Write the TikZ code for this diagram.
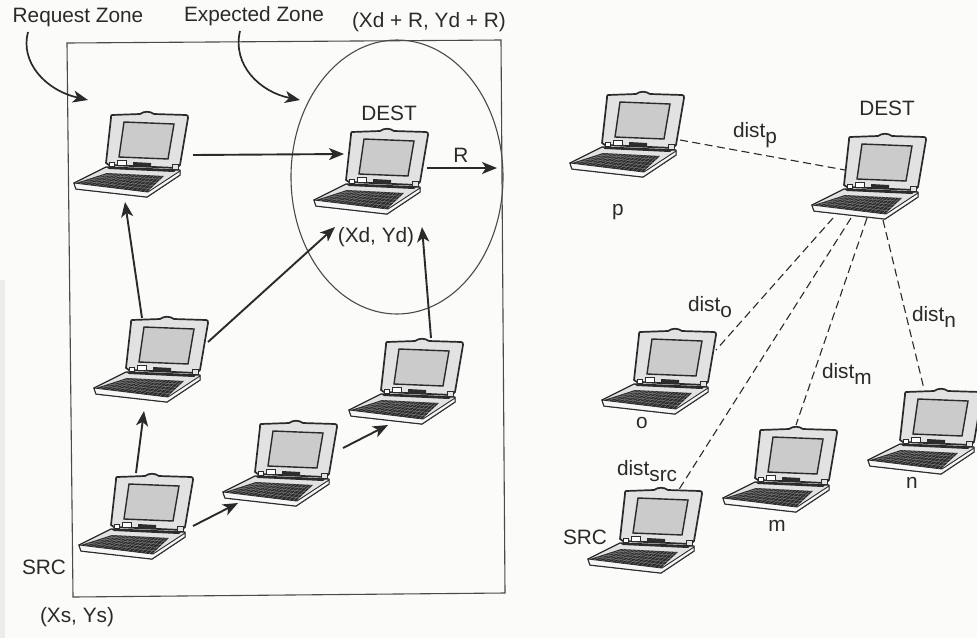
\documentclass[tikz,border=0pt]{standalone}
\usepackage{fontspec}
\setmainfont{Liberation Sans}
\usetikzlibrary{arrows.meta,calc}
\definecolor{paper}{HTML}{FBFBF9}
\definecolor{ink}{HTML}{2A2A2A}
\definecolor{lidgray}{HTML}{E2E2E2}
\definecolor{screengray}{HTML}{CBCBCB}
\definecolor{keydark}{HTML}{2C2C2C}
\newcommand{\sub}[1]{\raisebox{-6pt}{#1}}
\tikzset{
  x=1pt,y=-1pt,
  label text/.style={font=\fontsize{20.8}{24}\selectfont,text=ink,inner sep=0pt,outer sep=0pt},
  zone/.style={draw=ink!85,line width=1.1pt},
  conn/.style={draw=ink,line width=1.9pt,-{Stealth[length=15pt,width=12pt,inset=4pt]}},
  pointer/.style={conn,line width=1.7pt},
  dist/.style={draw=ink,line width=1.1pt,dash pattern=on 8pt off 4.5pt},
  laptop box/.style={minimum width=114pt,minimum height=85pt,inner sep=0pt,outer sep=0pt},
  pics/laptop/.style={code={
    % base
    \draw[ink,line width=1.3pt,fill=lidgray,line join=round]
      (-38,68) -- (-6,52) -- (68,55) -- (68,60) -- (35,82) -- (-36,74) -- cycle;
    \draw[ink,line width=0.9pt,fill=white!70!lidgray] (-38,68) -- (36,77) -- (68,56) -- (68,60) -- (35,82) -- (-36,74) -- cycle;
    % lid
    \draw[ink,line width=1.7pt,fill=lidgray,line join=round]
      (0,0) -- (28,-1) .. controls (32,-4) and (38,-4) .. (42,-1) -- (74,0)
      .. controls (76,0) and (76,1) .. (76,3) -- (68,50) -- (65,53) -- (-3,50) -- (-6,48) -- (-1,3)
      .. controls (-1,1) and (-1,0) .. (0,0) -- cycle;
    % screen
    \draw[ink,line width=1.4pt,fill=screengray] (12,7) -- (62,9) -- (56,44) -- (7,42) -- cycle;
    % hinge row
    \fill[keydark] (21,47) -- (39,48) -- (39,52) -- (21,52) -- cycle;
    \draw[keydark,line width=0.9pt,fill=white] (-3,47) rectangle (2,51);
    \draw[keydark,line width=0.9pt,fill=white] (5,45) rectangle (14,50);
    \draw[keydark,line width=0.9pt,fill=lidgray] (60,49) rectangle (66,54);
    % bar behind keyboard
    \fill[keydark] (-6,52) -- (64,55) -- (62,57) -- (-3,54) -- cycle;
    % keyboard
    \fill[keydark] (-5,58) -- (52,61) -- (35,77) -- (-36,68) -- cycle;
    \foreach \t in {0.2,0.4,0.6,0.8}{
      \draw[white!50!keydark,line width=0.3pt]
        ($(-5,58)!\t!(-36,68)$) -- ($(52,61)!\t!(35,77)$);
    }
    \foreach \t in {0.06,0.12,...,0.96}{
      \draw[white!45!keydark,line width=0.3pt]
        ($(-5,58)!\t!(52,61)$) -- ($(-36,68)!\t!(35,77)$);
    }
  }}
}
\begin{document}
\begin{tikzpicture}
\useasboundingbox (0,0) rectangle (977,638);
\fill[paper] (0,0) rectangle (977,638);
\fill[lidgray!60!paper] (0,280) rectangle (5,638);

% zones
\draw[zone] (67,43) -- (501,40) -- (505,593) -- (73,597) -- cycle;
\draw[zone] (397,177) ellipse [x radius=106,y radius=137];

% laptops (node centre = lid corner + (19,39.5))
\foreach \nm/\cx/\cy in {a/131/154.5,b/371/171.5,c/151/359.5,d/136/516.5,e/280/463.5,f/406/381.5,
                         p/627/134.5,dd/869/176.5,o/659/371.5,m/780/469.5,n/925/431.5,s/645/530.5}{
  \node[laptop box] (\nm) at (\cx,\cy) {};
  \pic at ($(\nm)+(-19,-39.5)$) {laptop};
}

% labels
\node[label text] (reqlabel) at (78,17) {Request Zone};
\node[label text] (explabel) at (254,16) {Expected Zone};
\node[label text,anchor=west] (corner) at (352,22) {(Xd + R, Yd + R)};
\node[label text] (destl) at (389,113) {DEST};
\node[label text] (rlabel) at (461,155) {R};
\node[label text] (xdyd) at (376,237) {(Xd, Yd)};
\node[label text] (srcl) at (44,567) {SRC};
\node[label text] (xsys) at (77,617) {(Xs, Ys)};
\node[label text] (destr) at (887,108) {DEST};
\node[label text] (pl) at (618,212) {p};
\node[label text] (ol) at (642,423) {o};
\node[label text] (ml) at (777,526) {m};
\node[label text] (nl) at (912,483) {n};
\node[label text] (srcr) at (585,537) {SRC};
\node[label text,anchor=base west] (dp) at (733,137) {dist\sub{p}};
\node[label text,anchor=base west] (dO) at (688,311) {dist\sub{o}};
\node[label text,anchor=base west] (dn) at (912,321) {dist\sub{n}};
\node[label text,anchor=base west] (dm) at (822,378) {dist\sub{m}};
\node[label text,anchor=base west] (dsrc) at (617,475) {dist\sub{src}};

% pointers
\coordinate (reqtip) at (88,100);
\coordinate (exptip) at (300,100);
\coordinate (rend) at (497,168);
\draw[pointer] ($(reqlabel)+(-50,15)$) .. controls (20,62) and (45,90) .. (reqtip);
\draw[pointer] ($(explabel)+(-14,15)$) .. controls (232,65) and (260,92) .. (exptip);

% route
\draw[conn] ($(a)+(62,0.5)$) -- ($(b)+(-27,-17.5)$);
\draw[conn] ($(b)+(56,-3.5)$) -- (rend);
\draw[conn] ($(d)+(0,-43.5)$) -- ($(c)+(-7,51.5)$);
\draw[conn] ($(c)+(-9,-41.5)$) -- ($(a)+(-6,47.5)$);
\draw[conn] ($(c)+(57,-17.5)$) -- ($(b)+(-36,55.5)$);
\draw[conn] ($(f)+(25,-43.5)$) -- ($(b)+(51,55.5)$);
\draw[conn] ($(d)+(57,9.5)$) -- ($(e)+(-42,39.5)$);
\draw[conn] ($(e)+(63,-15.5)$) -- ($(f)+(-18,43.5)$);

% distances
\draw[dist] ($(p)+(53,5.5)$) -- ($(dd)+(-24,-6.5)$);
\draw[dist] ($(dd)+(-36,41.5)$) -- ($(o)+(57,-21.5)$);
\draw[dist] ($(dd)+(-18,41.5)$) -- ($(s)+(33,-39.5)$);
\draw[dist] ($(dd)+(-2,41.5)$) -- ($(m)+(16,-44.5)$);
\draw[dist] ($(dd)+(14,43.5)$) -- ($(n)+(-1,-42.5)$);
\end{tikzpicture}
\end{document}
